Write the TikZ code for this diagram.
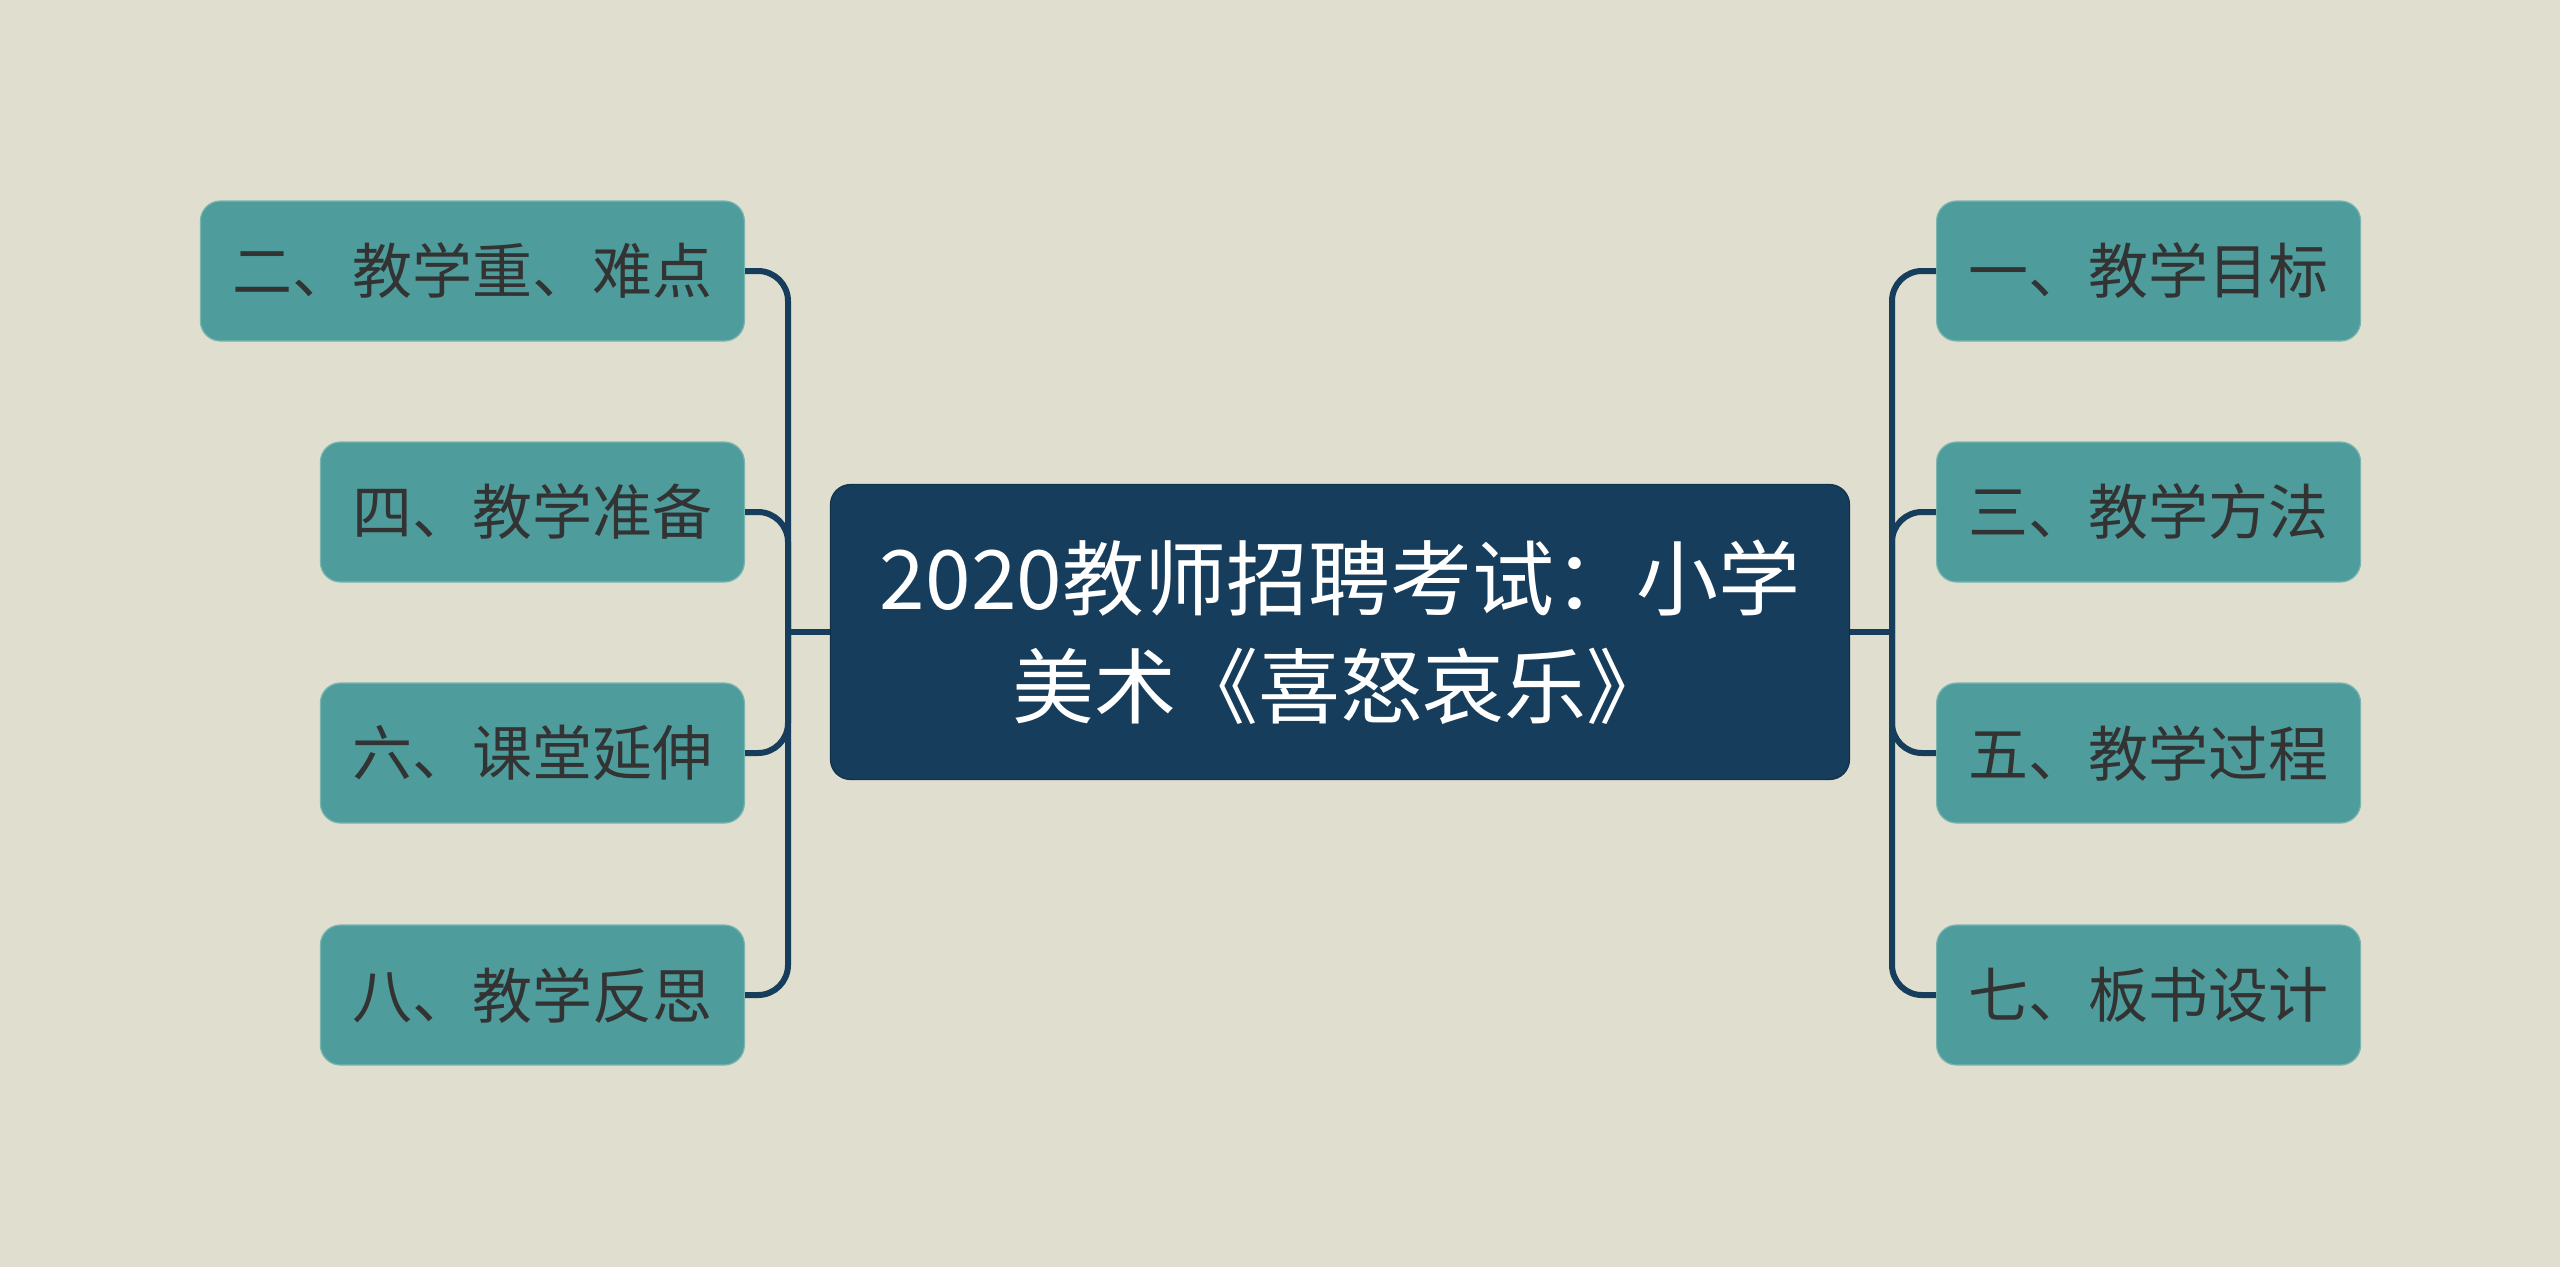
\documentclass[tikz,border=0pt]{standalone}
\usepackage{fontspec}
\setmainfont{Noto Sans CJK SC}
\usetikzlibrary{positioning}

\definecolor{bgpaper}{HTML}{E0DECF}
\definecolor{rootblue}{HTML}{173D5C}
\definecolor{leafteal}{HTML}{4E9C9C}
\definecolor{leafedge}{HTML}{7AB6AF}
\definecolor{leaftext}{HTML}{333333}
\definecolor{linkblue}{HTML}{173D5C}

\tikzset{
  root/.style={draw=rootblue!80!black, line width=0.3pt, fill=rootblue, rounded corners=5pt,
    minimum width=254.75pt, minimum height=73.75pt, align=center, text=white,
    font=\fontsize{20.5}{27}\selectfont},
  leaf/.style={draw=leafedge, line width=0.3pt, fill=leafteal, rounded corners=5pt,
    minimum height=35pt, inner xsep=8pt, text=leaftext, font=\fontsize{15}{18}\selectfont},
  link/.style={draw=linkblue, line width=1.5pt, rounded corners=7.5pt}
}

\begin{document}
\begin{tikzpicture}[x=0.25pt, y=-0.25pt]
% Paper
\fill[bgpaper] (0,0) rectangle (2560,1267);
\useasboundingbox (0,0) rectangle (2560,1267);

% Central topic
\node[root] (root) at (1340,632) {2020教师招聘考试：小学\\美术《喜怒哀乐》};

% Hubs
\coordinate (lhub) at (788,632);
\coordinate (rhub) at (1892,632);

% Left branches
\node[leaf, anchor=east] (keypoint) at (745,271) {二、教学重、难点};
\node[leaf, anchor=east] (prep) at (745,512) {四、教学准备};
\node[leaf, anchor=east] (extend) at (745,753) {六、课堂延伸};
\node[leaf, anchor=east] (reflect) at (745,995) {八、教学反思};

% Right branches
\node[leaf, anchor=west] (goal) at (1936,271) {一、教学目标};
\node[leaf, anchor=west] (method) at (1936,512) {三、教学方法};
\node[leaf, anchor=west] (process) at (1936,753) {五、教学过程};
\node[leaf, anchor=west] (board) at (1936,995) {七、板书设计};

% Connections
\draw[link] (root.west) -- (lhub);
\draw[link] (root.east) -- (rhub);
\foreach \n in {keypoint,prep,extend,reflect}
  \draw[link] (lhub) |- (\n.east);
\foreach \n in {goal,method,process,board}
  \draw[link] (rhub) |- (\n.west);
\end{tikzpicture}
\end{document}
